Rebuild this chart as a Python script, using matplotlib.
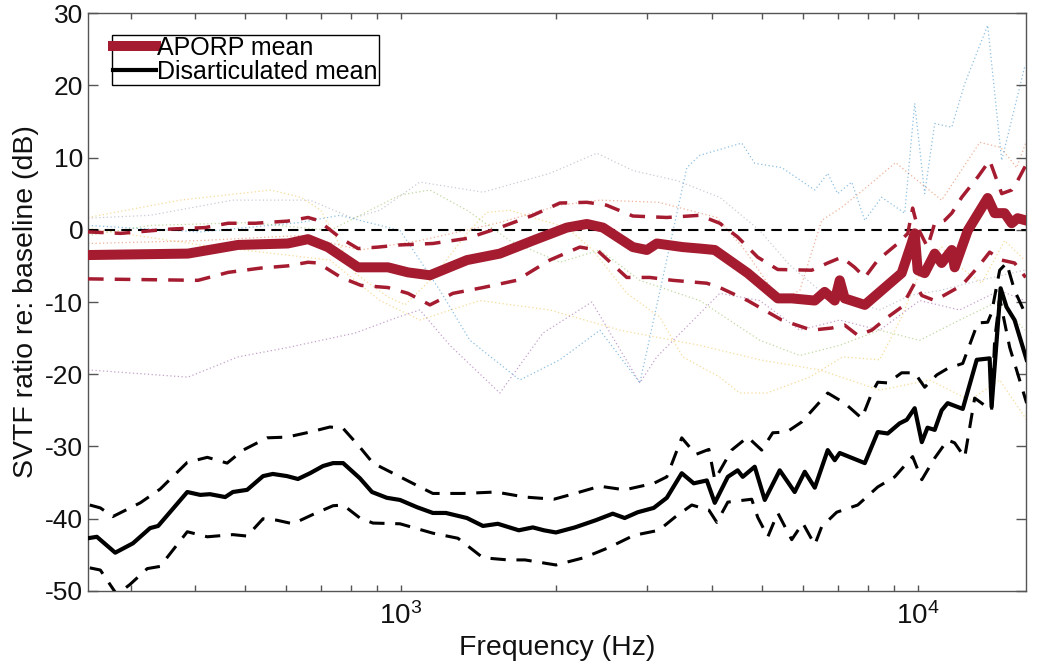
import matplotlib.pyplot as plt
from matplotlib.ticker import FixedLocator, NullFormatter, LogLocator

plt.rcParams['font.family'] = ['Liberation Sans', 'DejaVu Sans']
plt.rcParams['axes.unicode_minus'] = False
plt.rcParams['mathtext.fontset'] = 'custom'
plt.rcParams['mathtext.rm'] = 'Liberation Sans'

# APORP mean and spread (dB re: baseline)
aporp_f = [248, 387, 484, 604, 661, 722, 826, 944, 1032, 1138, 1342, 1554, 1800, 2094, 2290,
           2460, 2811, 2992, 3127, 3511, 3786, 4049, 4688, 5361, 5705, 6322, 6607, 6910, 7065,
           7222, 7901, 8513, 9310, 9730, 9867, 10000, 10317, 10788, 11126, 11640, 11790, 12500,
           13660, 14090, 14730, 15200, 15610, 16180]
aporp_mean = [-3.5, -3.3, -2.1, -1.9, -1.3, -2.4, -5.2, -5.2, -5.9, -6.3, -4.2, -3.3, -1.5, 0.3, 0.8,
              0.3, -2.4, -2.8, -1.9, -2.4, -2.6, -2.8, -6.0, -9.5, -9.5, -9.8, -8.6, -9.8, -7.0,
              -9.5, -10.4, -8.4, -6.0, -1.9, -0.5, -5.6, -6.0, -3.3, -4.6, -2.8, -5.2, -0.1,
              4.4, 2.3, 2.3, 0.9, 1.6, 1.3]

aporp_hi_f = [248, 287, 359, 418, 463, 522, 604, 661, 691, 766, 826, 903, 996, 1153, 1342, 1554,
              1800, 2030, 2290, 2500, 2811, 3270, 3786, 4140, 4484, 4903, 5361, 6237, 6698, 7126,
              7551, 7901, 8370, 9150, 9570, 9777, 10000, 10447, 10788, 11277, 11640, 12170, 13070,
              13780, 14540, 15200, 15610, 16180]
aporp_hi = [-0.3, -0.5, 0.1, 0.3, 0.9, 0.9, 1.2, 1.7, 1.3, -1.2, -2.6, -2.4, -2.1, -1.9, -1.2, 0.3,
            2.0, 3.7, 3.8, 3.4, 1.9, 1.7, 2.0, 0.9, -1.0, -3.8, -5.5, -5.6, -4.6, -3.8,
            -5.2, -6.6, -4.2, -1.9, -0.5, 3.0, 0.3, -2.4, 0.9, 1.3, 2.3, 4.5, 7.3,
            9.6, 5.0, 5.5, 6.8, 8.9]

aporp_lo_f = [248, 405, 463, 536, 604, 661, 691, 766, 837, 944, 1032, 1138, 1261, 1441, 1675, 1941,
              2219, 2395, 2736, 3031, 3357, 3908, 4140, 4688, 5458, 6237, 6820, 7222, 7656, 8150,
              8750, 9310, 9867, 10185, 10788, 11428, 12170, 13070, 13780, 14540, 15400, 16180]
aporp_lo = [-6.8, -7.0, -5.9, -5.3, -5.0, -4.5, -4.6, -6.6, -7.7, -8.0, -8.8, -10.4, -8.8, -8.0, -7.0, -4.2,
            -2.4, -2.8, -6.6, -6.6, -7.0, -7.4, -8.0, -9.8, -12.5, -13.9, -13.6, -13.2, -14.6, -13.9,
            -12.1, -10.7, -7.4, -9.1, -9.8, -8.8, -7.7, -5.2, -3.1, -4.2, -4.6, -6.6]

# Disarticulated mean and spread
dis_f = [248, 258, 280, 303, 327, 339, 386, 409, 427, 457, 473, 504, 541, 565, 602, 632, 667, 707,
         739, 773, 833, 879, 939, 996, 1074, 1153, 1222, 1342, 1441, 1540, 1691, 1800, 1891, 1995,
         2171, 2384, 2570, 2710, 2873, 3085, 3270, 3495, 3687, 3908, 4049, 4291, 4484, 4586, 4838,
         5059, 5408, 5780, 6046, 6322, 6698, 6910, 7065, 7901, 8370, 8750, 9226, 9527, 9867,
         10185, 10447, 10788, 11126, 11428, 12224, 13010, 13780, 13900, 14470, 14860, 15400, 16250]
dis_mean = [-42.7, -42.5, -44.7, -43.4, -41.3, -41.0, -36.3, -36.7, -36.6, -37.0, -36.3, -36.0, -34.1,
            -33.8, -34.1, -34.5, -33.7, -32.7, -32.3, -32.3, -34.4, -36.3, -37.1, -37.4, -38.4, -39.2,
            -39.2, -39.9, -41.0, -40.7, -41.6, -41.2, -41.6, -41.9, -41.2, -40.2, -39.3, -39.9, -39.1,
            -38.5, -37.1, -33.7, -35.1, -34.7, -37.8, -34.2, -33.3, -34.2, -32.8, -37.4, -33.3, -36.3,
            -33.5, -35.7, -30.5, -31.9, -30.9, -32.3, -28.0, -28.2, -26.8, -26.3, -24.7, -29.4, -27.4,
            -27.7, -25.0, -24.0, -24.8, -18.0, -17.8, -24.5, -8.1, -10.7, -12.5, -18.0]

dis_hi_f = [250, 262, 277, 313, 342, 386, 422, 461, 495, 551, 602, 667, 729, 773, 833, 883, 996, 1088,
            1153, 1318, 1527, 1738, 1977, 2171, 2427, 2710, 3085, 3270, 3495, 3721, 3944, 4049, 4365,
            4688, 4990, 5243, 5579, 5966, 6322, 6698, 7222, 7796, 8150, 8370, 8750, 9310, 9867,
            10317, 10885, 11428, 12224, 13070, 13660, 13900, 14410, 14860, 15400, 16100]
dis_hi = [-38.1, -38.5, -39.7, -37.8, -35.9, -32.2, -31.5, -32.3, -30.5, -28.8, -28.7, -28.0, -27.3,
          -27.5, -30.1, -32.3, -34.2, -35.6, -36.5, -36.5, -36.3, -37.0, -37.3, -36.5, -35.5, -36.0,
          -35.1, -34.2, -28.8, -31.1, -30.4, -34.6, -30.5, -28.7, -30.5, -28.1, -28.0, -26.6, -24.6,
          -22.6, -24.0, -26.1, -22.6, -21.1, -21.2, -19.8, -19.8, -21.8, -20.1, -19.2, -18.5, -12.9,
          -12.8, -11.5, -5.6, -4.6, -8.4, -11.4]

dis_lo_f = [250, 262, 282, 299, 323, 342, 386, 422, 473, 504, 541, 575, 618, 676, 739, 773, 833, 883,
            996, 1153, 1289, 1441, 1611, 1738, 1995, 2259, 2524, 2823, 3155, 3388, 3654, 3944, 4086,
            4291, 4773, 4903, 5129, 5361, 5705, 5993, 6322, 6520, 6970, 7656, 8370, 9028, 9777,
            10185, 10788, 11428, 11790, 12330, 12890, 13900, 14090, 14410, 15070, 16250]
dis_lo = [-46.8, -47.1, -50.5, -49.1, -46.9, -46.6, -41.8, -42.5, -42.2, -42.4, -40.0, -40.2, -40.7,
          -39.4, -38.2, -38.1, -39.9, -40.6, -40.7, -42.0, -42.7, -45.4, -45.7, -45.7, -46.4, -45.4,
          -44.0, -42.3, -41.6, -39.8, -38.1, -38.8, -40.5, -37.7, -37.3, -39.8, -42.5, -39.2, -42.9,
          -40.6, -43.6, -41.1, -39.1, -38.1, -35.6, -34.2, -31.4, -34.6, -31.6, -29.1, -29.5, -31.5,
          -23.3, -25.0, -15.3, -9.5, -16.3, -24.0]

# individual APORP specimens (faint dotted)
spec1_f = [248, 387, 484, 604, 815, 987, 1088, 1244, 1554, 1883, 2341, 2900, 3127, 4140, 4948, 5913,
           7065, 8443, 10090, 12055, 14410, 16100]
spec1 = [-19.4, -20.4, -17.6, -16.3, -14.3, -12.1, -11.1, -16.0, -22.6, -14.3, -10.0, -21.2, -17.6,
         -8.8, -9.8, -13.9, -12.5, -13.9, -9.8, -11.1, -8.4, -9.8]
spec2_f = [248, 327, 473, 667, 807, 911, 1088, 1441, 1941, 2395, 2811, 3420, 4140, 4948, 5654, 6463,
           7388, 8443, 9650, 11030, 13190, 16100]
spec2 = [1.6, 2.0, 4.1, 4.1, 1.6, 2.7, 6.6, 5.2, 7.8, 10.6, 8.2, 6.8, 4.5, -0.1, -4.9, -8.4,
         -9.8, -11.1, -9.1, -8.4, -7.0, -5.6]
spec3_f = [248, 374, 560, 640, 700, 815, 944, 1018, 1153, 1342, 1466, 1625, 1800, 2094, 2352, 2736,
           3170, 3511, 4140, 4524, 5105, 6182, 7160, 8443, 9310, 10000, 11126, 11790, 13300, 14730, 16100]
spec3 = [1.7, 4.1, 5.5, 4.5, 2.7, -6.0, -9.3, -10.4, -6.6, -0.5, 2.4, 2.7, 1.7, 0.3, -2.8, -8.8,
         -12.1, -17.6, -20.4, -22.6, -22.6, -20.4, -17.6, -18.0, -12.1, -6.6, -2.4, -4.6, -7.4, -1.5, -4.2]
spec4_f = [248, 409, 638, 833, 1088, 1554, 2030, 2427, 3155, 4086, 4628, 5408, 5913, 6520, 7126, 7965,
           9066, 9608, 11126, 13190, 14470, 15540, 16180]
spec4 = [-1.9, -1.5, -0.8, -2.8, -1.5, 1.0, 3.4, 4.1, 3.8, 1.7, -2.8, -9.8, -8.4, 1.3, 3.1, 5.9,
         9.3, 7.8, 4.1, 12.1, 11.4, 8.6, 12.0]
spec5_f = [248, 409, 638, 762, 996, 1190, 1360, 1699, 2030, 2427, 2900, 3575, 3786, 4567, 4838, 5458,
           6322, 6698, 7000, 7453, 7901, 8513, 9438, 9867, 10317, 10788, 11640, 12330, 13660, 14540, 16100]
spec5 = [0.6, -0.3, 1.0, 2.0, -0.1, -8.4, -15.3, -20.8, -18.0, -13.9, -21.2, 8.6, 10.3, 12.0, 9.2, 8.6,
         5.5, 7.8, 5.0, 6.6, 1.3, 4.5, 2.3, 17.5, 5.0, 14.7, 14.2, 20.2, 28.3, 9.6, 22.5]
spec6_f = [248, 327, 511, 729, 996, 1138, 1342, 1625, 2030, 2427, 2900, 3786, 4948, 5913, 7065, 8443,
           10090, 12055, 14410, 16100]
spec6 = [-0.8, 0.6, 1.0, -0.1, 4.8, 5.5, 2.7, -1.5, -4.5, -2.8, -7.0, -9.8, -15.3, -17.4, -16.0, -13.9,
         -15.3, -12.5, -9.8, -13.9]
spec7_f = [248, 409, 729, 911, 1088, 1422, 1941, 2652, 3786, 4948, 6463, 8443, 10545, 12610, 14410, 16250]
spec7 = [0.2, -2.1, -4.2, -9.8, -12.5, -9.8, -11.1, -13.9, -16.0, -18.0, -19.4, -22.2, -20.8, -23.6,
         -20.8, -26.3]

crimson = '#A51C30'
spec_colors = ['#7E2F8E', '#8C8CA8', '#EDB120', '#D95319', '#0072BD', '#77AC30', '#EDB120']

fig = plt.figure(figsize=(10.5, 6.68), dpi=100)
ax = fig.add_axes([0.0838, 0.1153, 0.8933, 0.8652])

specs = [(spec1_f, spec1), (spec2_f, spec2), (spec3_f, spec3), (spec4_f, spec4),
         (spec5_f, spec5), (spec6_f, spec6), (spec7_f, spec7)]
for (f, v), c in zip(specs, spec_colors):
    ax.plot(f, v, color=c, lw=0.9, ls=(0, (1, 2)), alpha=0.45, zorder=1)

ax.axhline(0, color='black', lw=1.5, ls=(0, (5, 3)), zorder=2)

ax.plot(dis_hi_f, dis_hi, color='black', lw=2.2, ls=(0, (5, 3.5)), zorder=3)
ax.plot(dis_lo_f, dis_lo, color='black', lw=2.2, ls=(0, (5, 3.5)), zorder=3)
ax.plot(dis_f, dis_mean, color='black', lw=3, zorder=4)

ax.plot(aporp_hi_f, aporp_hi, color=crimson, lw=2.5, ls=(0, (4.5, 3.2)), zorder=5)
ax.plot(aporp_lo_f, aporp_lo, color=crimson, lw=2.5, ls=(0, (4.5, 3.2)), zorder=5)
ax.plot(aporp_f, aporp_mean, color=crimson, lw=7.2, solid_joinstyle='round', zorder=6)

h1, = ax.plot([], [], color=crimson, lw=7.2, label='APORP mean')
h2, = ax.plot([], [], color='black', lw=3, label='Disarticulated mean')

ax.set_xscale('log')
ax.set_xlim(248, 16200)
ax.set_ylim(-50, 30)
ax.yaxis.set_major_locator(FixedLocator(range(-50, 31, 10)))
ax.xaxis.set_major_locator(LogLocator(base=10))
ax.xaxis.set_minor_locator(LogLocator(base=10, subs=range(2, 10)))
ax.xaxis.set_minor_formatter(NullFormatter())

for s in ax.spines.values():
    s.set_color('#555555')
    s.set_linewidth(1.0)
ax.tick_params(axis='both', which='both', direction='in', top=True, right=True,
               colors='#555555', labelcolor='#111111', labelsize=19, width=1.0)
ax.tick_params(axis='y', which='major', length=7)
ax.tick_params(axis='x', which='major', length=4.5, pad=8, labelsize=20)
ax.tick_params(axis='x', which='minor', length=4.5)

ax.set_xlabel('Frequency (Hz)', fontsize=20.5, color='#111111', labelpad=4)
ax.set_ylabel('SVTF ratio re: baseline (dB)', fontsize=20.5, color='#111111', labelpad=4)

leg = ax.legend(handles=[h1, h2], loc='upper left', bbox_to_anchor=(0.0256, 0.962),
                borderaxespad=0, fontsize=18, frameon=True, fancybox=False,
                edgecolor='black', framealpha=1, handlelength=1.7, handletextpad=0.05,
                labelspacing=0.0, borderpad=0.05)
leg.get_frame().set_linewidth(1.0)

fig.savefig('out.png', dpi=100)
